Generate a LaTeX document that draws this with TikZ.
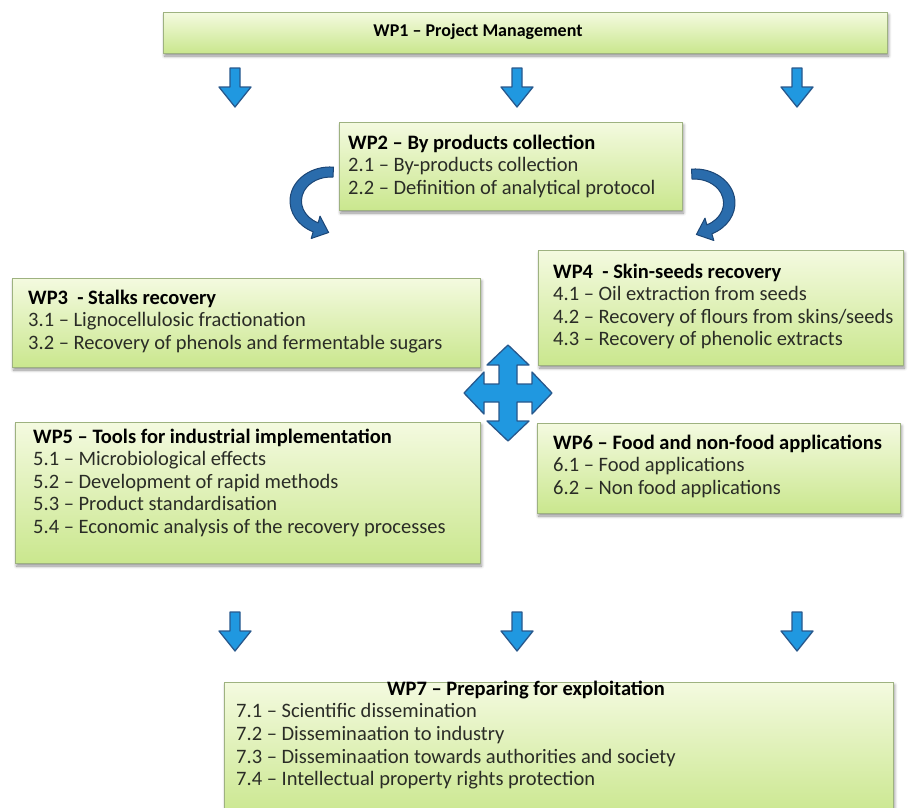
\documentclass[tikz,border=0pt]{standalone}
\usepackage{fontspec}
\setmainfont{Carlito}
\usetikzlibrary{shadows.blur}

\definecolor{boxtop}{RGB}{244,250,224}
\definecolor{boxbot}{RGB}{202,231,142}
\definecolor{boxline}{RGB}{158,178,128}
\definecolor{arrowfill}{RGB}{32,152,224}
\definecolor{arrowline}{RGB}{40,88,140}
\definecolor{arcfill}{RGB}{42,108,172}
\definecolor{arcline}{RGB}{28,70,118}
\definecolor{bodytext}{RGB}{42,44,38}

\tikzset{
  wpbox/.style={draw=boxline, line width=1pt, top color=boxtop, bottom color=boxbot,
    inner sep=0pt, outer sep=0pt,
    blur shadow={shadow xshift=1.5pt, shadow yshift=-3pt, shadow blur steps=6,
      shadow blur radius=3pt, shadow opacity=45}},
  wptext/.style={anchor=north west, inner sep=0pt, align=left,
    font=\fontsize{20.5}{22.6}\selectfont, text=bodytext},
  wphead/.style={inner sep=0pt, font=\fontsize{20.5}{22.6}\selectfont\bfseries, text=black},
  blockarrow/.style={fill=arrowfill, draw=arrowline, line width=1.3pt, line join=round},
  bendarrow/.style={fill=arcfill, draw=arcline, line width=1pt, line join=round},
  downarrow/.pic={\path[blockarrow] (-5,0) -- (5,0) -- (5,19) -- (16,19) -- (0,39)
    -- (-16,19) -- (-5,19) -- cycle;}
}

\begin{document}
\begin{tikzpicture}[x=1pt, y=-1pt]
\useasboundingbox (0,0) rectangle (909,807);

% work package boxes
\node[wpbox, minimum width=724, minimum height=41] (wp1) at (525,32.5) {};
\node[wpbox, minimum width=343, minimum height=88] (wp2) at (510.5,166) {};
\node[wpbox, minimum width=468, minimum height=89] (wp3) at (246,322.5) {};
\node[wpbox, minimum width=365, minimum height=115] (wp4) at (720.5,307.5) {};
\node[wpbox, minimum width=465, minimum height=141] (wp5) at (247.5,492.5) {};
\node[wpbox, minimum width=363, minimum height=90] (wp6) at (718.5,468) {};
\node[wpbox, minimum width=669, minimum height=135] (wp7) at (558.5,749.5) {};

% box texts
\node[wphead, font=\fontsize{18}{20}\selectfont\bfseries] (t1) at (478,32) {WP1 – Project Management};
\node[wptext] (t2) at (348,134.5) {\textbf{\color{black}WP2 – By products collection}\\
  2.1 – By-products collection\\
  2.2 – Definition of analytical protocol};
\node[wptext] (t3) at (28,289.5) {\textbf{\color{black}WP3\ \ - Stalks recovery}\\
  3.1 – Lignocellulosic fractionation\\
  3.2 – Recovery of phenols and fermentable sugars};
\node[wptext] (t4) at (553,263.5) {\textbf{\color{black}WP4\ \ - Skin-seeds recovery}\\
  4.1 – Oil extraction from seeds\\
  4.2 – Recovery of flours from skins/seeds\\
  4.3 – Recovery of phenolic extracts};
\node[wptext] (t5) at (33,428.5) {\textbf{\color{black}WP5 – Tools for industrial implementation}\\
  5.1 – Microbiological effects\\
  5.2 – Development of rapid methods\\
  5.3 – Product standardisation\\
  5.4 – Economic analysis of the recovery processes};
\node[wptext] (t6) at (553,434.5) {\textbf{\color{black}WP6 – Food and non-food applications}\\
  6.1 – Food applications\\
  6.2 – Non food applications};
\node[wphead] (t7h) at (526,690) {WP7 – Preparing for exploitation};
\node[wptext] (t7) at (236,703.5) {7.1 – Scientific dissemination\\
  7.2 – Disseminaation to industry\\
  7.3 – Disseminaation towards authorities and society\\
  7.4 – Intellectual property rights protection};

% straight block arrows
\foreach \ax in {235,517,797} {
  \pic at (\ax,68) {downarrow};
  \pic at (\ax,612) {downarrow};
}

% bent arrows on both sides of WP2
\path[bendarrow] (333.5,167.1) arc[start angle=275, end angle=115, x radius=40, y radius=34]
  -- (311.2,238.5) -- (328.6,232.5) -- (320.0,216.1) -- (318.2,222.8)
  arc[start angle=115, end angle=275, x radius=29, y radius=24] -- cycle;
\begin{scope}[shift={(1025,2)}, xscale=-1]
\path[bendarrow] (333.5,167.1) arc[start angle=275, end angle=115, x radius=40, y radius=34]
  -- (311.2,238.5) -- (328.6,232.5) -- (320.0,216.1) -- (318.2,222.8)
  arc[start angle=115, end angle=275, x radius=29, y radius=24] -- cycle;
\end{scope}

% four-way arrow between WP3-WP6
\begin{scope}[shift={(508,393)}]
\path[blockarrow] (0,-48) -- (21,-28) -- (9,-28) -- (9,-9) -- (24,-9) -- (24,-21)
  -- (44,0) -- (24,21) -- (24,9) -- (9,9) -- (9,28) -- (21,28) -- (0,48)
  -- (-21,28) -- (-9,28) -- (-9,9) -- (-24,9) -- (-24,21) -- (-44,0)
  -- (-24,-21) -- (-24,-9) -- (-9,-9) -- (-9,-28) -- (-21,-28) -- cycle;
\end{scope}
\end{tikzpicture}
\end{document}
